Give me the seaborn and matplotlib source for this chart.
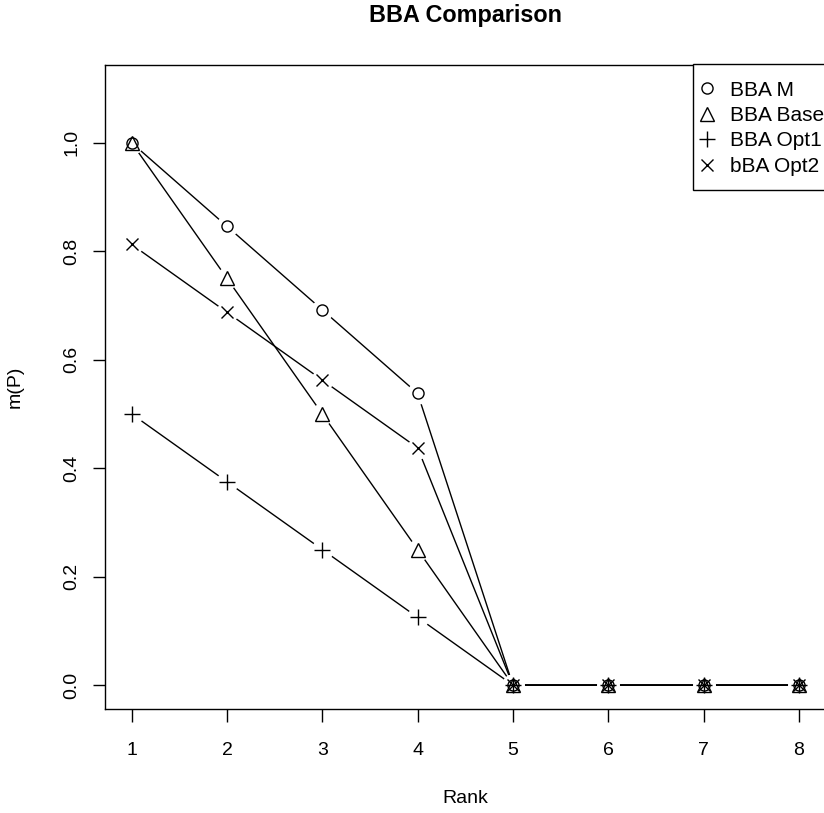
import matplotlib
matplotlib.use("Agg")
import matplotlib.pyplot as plt
import seaborn as sns
import numpy as np
import pandas as pd
from matplotlib.lines import Line2D
from matplotlib.patches import Rectangle

rank = [1, 2, 3, 4, 5, 6, 7, 8]
bba_m = [1.0, 0.846, 0.692, 0.538, 0.0, 0.0, 0.0, 0.0]
bba_base = [1.0, 0.75, 0.5, 0.25, 0.0, 0.0, 0.0, 0.0]
bba_opt1 = [0.5, 0.375, 0.25, 0.125, 0.0, 0.0, 0.0, 0.0]
bba_opt2 = [0.8125, 0.6875, 0.5625, 0.4375, 0.0, 0.0, 0.0, 0.0]
series_names = ["BBA M", "BBA Base", "BBA Opt1", "bBA Opt2"]
x_ticks = [1, 2, 3, 4, 5, 6, 7, 8]
y_ticks = [0.0, 0.2, 0.4, 0.6, 0.8, 1.0]

sns.set_style("ticks")
plt.rcParams['font.family'] = ['Liberation Sans', 'DejaVu Sans']
plt.rcParams['text.color'] = 'black'
plt.rcParams['axes.labelcolor'] = 'black'
plt.rcParams['xtick.color'] = 'black'
plt.rcParams['ytick.color'] = 'black'
plt.rcParams['axes.edgecolor'] = 'black'

W, H = 824, 813
FS = 14
LFS = 15
fig = plt.figure(figsize=(W / 100, H / 100), dpi=100)
ax = fig.add_axes([105 / W, 1 - 709 / H, 720.5 / W, (709 - 64.7) / H])

series = [bba_m, bba_base, bba_opt1, bba_opt2]
markers = ['o', '^', '+', 'x']
msizes = [8, 9.5, 11, 8]

for vals in series:
    df = pd.DataFrame({"Rank": rank, "m": vals})
    sns.lineplot(data=df, x="Rank", y="m", color='black', lw=1, ax=ax,
                 zorder=1, legend=False)
for vals in series:
    ax.plot(rank, vals, ls='none', marker='o', ms=16, mfc='white',
            mec='none', zorder=2)
for vals, m, s in zip(series, markers, msizes):
    ax.plot(rank, vals, ls='none', marker=m, ms=s, mfc='none',
            mec='black', mew=1, zorder=3)

ax.set_xlim(0.72, 8.28)
ax.set_ylim(-0.044, 1.144)
ax.set_xticks(x_ticks)
ax.set_xticklabels([str(t) for t in x_ticks])
ax.set_yticks(y_ticks)
ax.set_yticklabels([f"{t:.1f}" for t in y_ticks], rotation=90, va='center')
ax.tick_params(axis='both', direction='out', length=9, width=1,
               color='black', labelsize=FS, labelcolor='black')
ax.tick_params(axis='x', pad=15)
ax.tick_params(axis='y', pad=8.5)
for sp in ax.spines.values():
    sp.set_visible(True)
    sp.set_color('black')
    sp.set_linewidth(1)

ax.set_xlabel("Rank", fontsize=FS, labelpad=22, color='black')
ax.set_ylabel("m(P)", fontsize=FS, labelpad=28.5, color='black')
ax.set_title("BBA Comparison", fontsize=FS * 1.2, fontweight='bold',
             pad=30.5, color='black')

# legend frame (R-style box, extends past the figure edge)
frame = Rectangle((693 / W, 1 - 190 / H), 150 / W, (190 - 64.5) / H,
                  transform=fig.transFigure, fill=True, facecolor='white',
                  edgecolor='black', lw=1, zorder=5)
fig.add_artist(frame)

handles = [Line2D([], [], ls='none', marker=m, ms=s, mfc='none',
                  mec='black', mew=1) for m, s in zip(markers, msizes)]
leg = fig.legend(handles, series_names, loc='upper left',
                 bbox_to_anchor=(707 / W, 1 - 80.5 / H),
                 bbox_transform=fig.transFigure, fontsize=LFS,
                 frameon=False, borderpad=0, handlelength=0.01,
                 handletextpad=1.1, labelspacing=0.31, borderaxespad=0,
                 labelcolor='black')
leg.set_zorder(6)

fig.savefig("out.png", dpi=100)
